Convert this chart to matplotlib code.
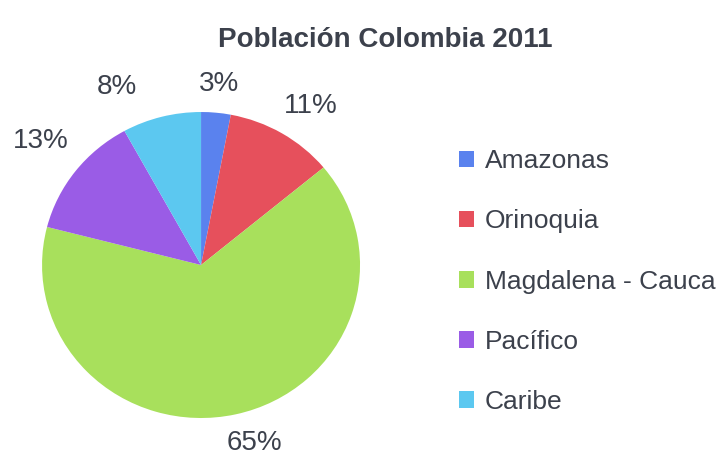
import matplotlib
matplotlib.use("Agg")
import numpy as np
import matplotlib.pyplot as plt

regions = ["Amazonas", "Orinoquia", "Magdalena - Cauca", "Pacífico", "Caribe"]
shares = [3, 11, 65, 13, 8]
colors = ["#5a82ee", "#e6505c", "#a8e05c", "#9a5ce6", "#5cc8f0"]

# label placement (Excel "best fit" look): radial distance and angle nudge per slice
label_dist = [1.19, 1.25, 1.21, 1.29, 1.28]
label_nudge = [0, -3, 3.4, -1, 10]

plt.rcParams["font.family"] = ["Liberation Sans", "DejaVu Sans"]
text_col = "#3c414c"

fig = plt.figure(figsize=(7.25, 4.55), dpi=100)
ax = fig.add_axes([0.058, 0.0813, 0.4386, 0.6725])

wedges, _ = ax.pie(shares, colors=colors, startangle=90, counterclock=False)
for w, v, d, n in zip(wedges, shares, label_dist, label_nudge):
    ang = np.deg2rad((w.theta1 + w.theta2) / 2 + n)
    ax.text(d * np.cos(ang), d * np.sin(ang), f"{v}%", ha="center", va="center",
            fontsize=20, color=text_col, clip_on=False)
ax.set_xlim(-1, 1)
ax.set_ylim(-1, 1)
ax.set_aspect("auto")

fig.text(0.531, 0.912, "Población Colombia 2011", ha="center", va="center",
         fontsize=20, fontweight="bold", color="#3c414c")

leg = fig.legend(wedges, regions, loc="center left", bbox_to_anchor=(0.6, 0.381),
                 frameon=False, fontsize=19, labelspacing=1.37,
                 handlelength=0.58, handleheight=0.58, handletextpad=0.4)
for t in leg.get_texts():
    t.set_color(text_col)

fig.savefig("out.png", dpi=100)
